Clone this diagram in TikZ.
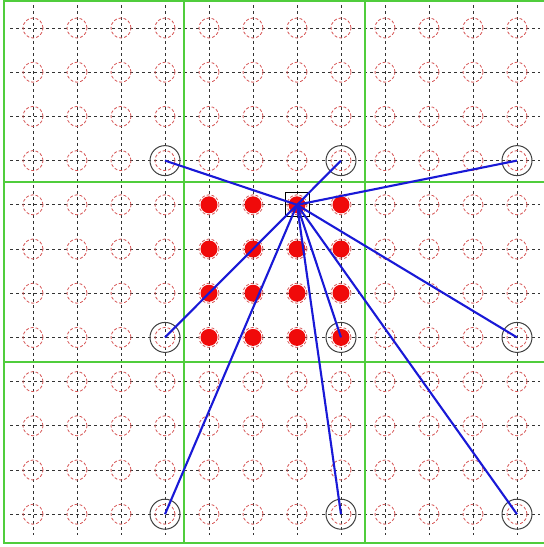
\documentclass[tikz,border=0pt]{standalone}
\begin{document}
\begin{tikzpicture}[x=1pt,y=-1pt,
  gridline/.style={black!80,line width=0.8pt,dash pattern=on 3pt off 3pt},
  candidate/.style={circle,draw={rgb,255:red,215;green,85;blue,85},line width=0.8pt,dash pattern=on 3pt off 2pt,minimum size=20pt,inner sep=0pt},
  anchorpt/.style={circle,draw=black!75,line width=1pt,minimum size=30pt,inner sep=0pt},
  sample/.style={circle,fill={rgb,255:red,240;green,10;blue,10},minimum size=17pt,inner sep=0pt},
  blockline/.style={draw={rgb,255:red,80;green,205;blue,60},line width=1.9pt},
  link/.style={draw={rgb,255:red,25;green,25;blue,215},line width=2.1pt},
  current/.style={draw=black,line width=0.8pt,minimum size=24pt,inner sep=0pt}]
\useasboundingbox (0,0) rectangle (544,547);
\fill[white] (0,0) rectangle (544,547);
% grid lines
\foreach \i in {0,...,11}{
  \pgfmathsetmacro{\xx}{33+44*\i}
  \pgfmathsetmacro{\yy}{28+44.2*\i}
  \draw[gridline] (10,\yy) -- (540,\yy);
  \draw[gridline] (\xx,5) -- (\xx,535);
}
% candidate circles
\foreach \i in {0,...,11}{
  \foreach \j in {0,...,11}{
    \pgfmathsetmacro{\xx}{33+44*\i}
    \pgfmathsetmacro{\yy}{28+44.2*\j}
    \node[candidate] (p-\i-\j) at (\xx,\yy) {};
  }
}
% block lines
\draw[blockline] (4,1) rectangle (546,543);
\draw[blockline] (184,1) -- (184,543);
\draw[blockline] (365,1) -- (365,543);
\draw[blockline] (4,182) -- (546,182);
\draw[blockline] (4,362) -- (546,362);
% sampled points
\foreach \i in {4,...,7}{
  \foreach \j in {4,...,7}{
    \node[sample] (s-\i-\j) at (p-\i-\j) {};
  }
}
% anchor circles
\foreach \i in {3,7,11}{
  \foreach \j in {3,7,11}{
    \node[anchorpt] (a-\i-\j) at (p-\i-\j) {};
  }
}
% current point
\node[current] (cur) at (p-6-4) {};
% links
\foreach \i in {3,7,11}{
  \foreach \j in {3,7,11}{
    \draw[link] (cur.center) -- (a-\i-\j.center);
  }
}
\end{tikzpicture}
\end{document}
